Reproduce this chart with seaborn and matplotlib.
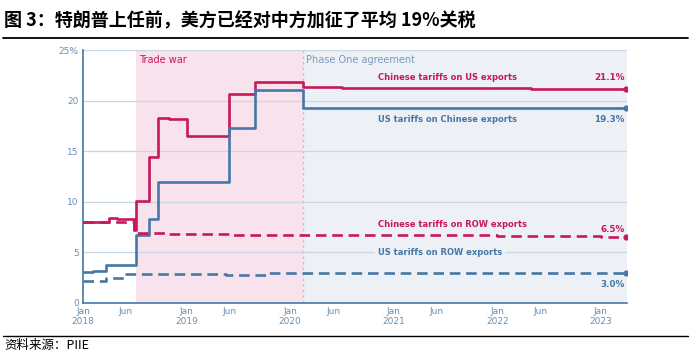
import matplotlib
matplotlib.use("Agg")
import matplotlib.pyplot as plt
from matplotlib.lines import Line2D
import numpy as np
import pandas as pd
import seaborn as sns

# step changes (date of change, value in %)
cn_us_dates = ["2018-01-01", "2018-04-02", "2018-05-01", "2018-07-01", "2018-07-06", "2018-08-23",
               "2018-09-24", "2018-11-01", "2019-01-01", "2019-06-01", "2019-09-01", "2020-02-14",
               "2020-07-01", "2022-05-01"]
cn_us_vals = [8.0, 8.4, 8.3, 7.2, 10.1, 14.4, 18.3, 18.2, 16.5, 20.7, 21.8, 21.3, 21.2, 21.1]

us_cn_dates = ["2018-01-01", "2018-02-07", "2018-03-23", "2018-07-06", "2018-08-23", "2018-09-24",
               "2019-06-01", "2019-09-01", "2020-02-14"]
us_cn_vals = [3.1, 3.2, 3.8, 6.7, 8.3, 12.0, 17.3, 21.0, 19.3]

cn_row_dates = ["2018-01-01", "2018-07-01", "2018-11-01", "2019-06-15", "2022-01-01", "2023-01-01"]
cn_row_vals = [8.0, 6.9, 6.8, 6.7, 6.6, 6.5]

us_row_dates = ["2018-01-01", "2018-03-23", "2018-06-01", "2019-05-20", "2019-10-18"]
us_row_vals = [2.2, 2.5, 2.9, 2.8, 3.0]

end_date = "2023-04-01"
trade_war = ("2018-07-06", "2020-02-14")

series_names = ["Chinese tariffs on US exports", "US tariffs on Chinese exports",
                "Chinese tariffs on ROW exports", "US tariffs on ROW exports"]
end_labels = ["21.1%", "19.3%", "6.5%", "3.0%"]

RED = "#c8175d"
BLUE = "#4577a8"
TICK = "#6b8db3"


def make_df(dates, vals):
    df = pd.DataFrame({"date": pd.to_datetime(dates), "value": vals})
    last = pd.DataFrame({"date": [pd.Timestamp(end_date)], "value": [vals[-1]]})
    return pd.concat([df, last], ignore_index=True)


sns.set_theme(style="white")
plt.rcParams["font.family"] = ["DejaVu Sans"]

fig = plt.figure(figsize=(6.91, 3.56), dpi=100)
ax = fig.add_axes([83 / 691, 1 - 303 / 356, 544 / 691, 253 / 356])

start = pd.Timestamp("2018-01-01")
end = pd.Timestamp(end_date)
tw0, tw1 = pd.Timestamp(trade_war[0]), pd.Timestamp(trade_war[1])

ax.axvspan(tw0, tw1, color="#f8e2eb", lw=0, zorder=0)
ax.axvspan(tw1, end + pd.Timedelta(days=2), color="#edf1f6", lw=0, zorder=0)
ax.axvline(tw1, color="#b7c8dc", lw=1, ls=(0, (2, 2)), zorder=1)

for yv in [5, 10, 15, 20, 25]:
    ax.axhline(yv, color="#c9d6e4", lw=0.9, zorder=1)

specs = [
    (cn_us_dates, cn_us_vals, RED, "-"),
    (us_cn_dates, us_cn_vals, BLUE, "-"),
    (cn_row_dates, cn_row_vals, RED, (0, (4, 2.2))),
    (us_row_dates, us_row_vals, BLUE, (0, (4, 2.2))),
]
for dates, vals, color, ls in specs:
    df = make_df(dates, vals)
    sns.lineplot(data=df, x="date", y="value", ax=ax, color=color, lw=1.9,
                 drawstyle="steps-post", linestyle=ls, zorder=3)
    ax.scatter([df["date"].iloc[-1]], [df["value"].iloc[-1]], s=12, color=color, zorder=4)

# series labels
lab_y = [22.3, 18.1, 7.8, 5.0]
val_y = [22.3, 18.1, 7.3, 1.85]
colors = [RED, BLUE, RED, BLUE]
for i in range(4):
    t = ax.text(0.542, lab_y[i], series_names[i], transform=ax.get_yaxis_transform(),
                color=colors[i], fontsize=6.0, fontweight="bold", ha="left", va="center", zorder=5)
    if i == 3:
        t.set_bbox(dict(facecolor="#edf1f6", edgecolor="none", pad=2))
    ax.text(0.995, val_y[i], end_labels[i], transform=ax.get_yaxis_transform(),
            color=colors[i], fontsize=6.3, fontweight="bold", ha="right", va="center", zorder=5)

ax.text(tw0 + pd.Timedelta(days=12), 24.5, "Trade war", color=RED, fontsize=7, va="top", ha="left")
ax.text(tw1 + pd.Timedelta(days=12), 24.5, "Phase One agreement", color="#7b9ac2", fontsize=7,
        va="top", ha="left")

ax.set_xlim(start, end + pd.Timedelta(days=2))
ax.set_ylim(0, 25)

xt, xl = [], []
for yr in range(2018, 2024):
    xt.append(pd.Timestamp(f"{yr}-01-01"))
    xl.append(f"Jan\n{yr}")
    if yr < 2023:
        xt.append(pd.Timestamp(f"{yr}-06-01"))
        xl.append("Jun")
ax.set_xticks(xt)
ax.set_xticklabels(xl, color=TICK, fontsize=6.5, linespacing=1.1)
ax.set_yticks([0, 5, 10, 15, 20, 25])
ax.set_yticklabels(["0", "5", "10", "15", "20", "25%"], color=TICK, fontsize=6.5)
ax.tick_params(length=0, pad=3)
ax.set_xlabel("")
ax.set_ylabel("")

for s in ["top", "right"]:
    ax.spines[s].set_visible(False)
for s in ["left", "bottom"]:
    ax.spines[s].set_color(BLUE)
    ax.spines[s].set_linewidth(1.2)

cjk = ["Noto Sans CJK SC", "DejaVu Sans"]
fig.text(0.006, 0.941, "图 3：特朗普上任前，美方已经对中方加征了平均 19%关税", family=cjk,
         fontsize=13, fontweight="bold", ha="left", va="center", color="black")
fig.add_artist(Line2D([0.004, 0.996], [1 - 37.6 / 356] * 2, color="black", lw=1.3,
                      transform=fig.transFigure))
fig.add_artist(Line2D([0.004, 0.996], [1 - 335.7 / 356] * 2, color="black", lw=1.0,
                      transform=fig.transFigure))
fig.text(0.007, 1 - 345 / 356, "资料来源：PIIE", family=cjk, fontsize=9, ha="left", va="center",
         color="black")

fig.savefig("out.png", dpi=100)
